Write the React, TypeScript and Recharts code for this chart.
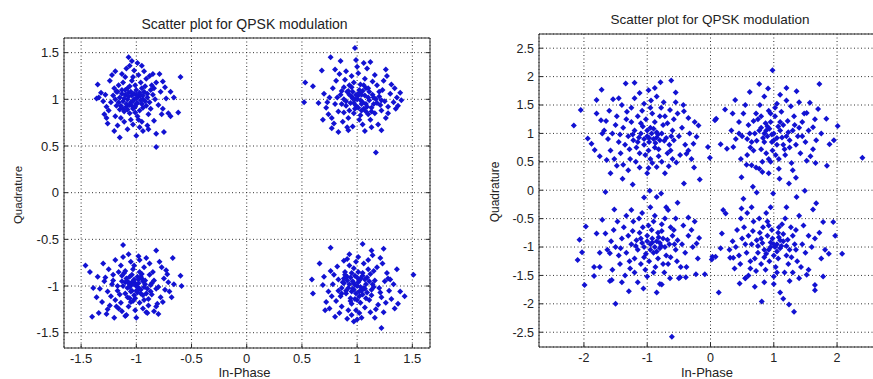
import React from 'react';
import { ScatterChart, Scatter, XAxis, YAxis, CartesianGrid } from 'recharts';

type P = [number, number];

const titleText = 'Scatter plot for QPSK modulation';
const xLabelText = 'In-Phase';
const yLabelText = 'Quadrature';

const leftXTicks = [-1.5, -1, -0.5, 0, 0.5, 1, 1.5];
const leftYTicks = [-1.5, -1, -0.5, 0, 0.5, 1, 1.5];
const rightXTicks = [-2, -1, 0, 1, 2];
const rightYTicks = [-2.5, -2, -1.5, -1, -0.5, 0, 0.5, 1, 1.5, 2, 2.5];

// ---- Left panel (low noise) ----
const leftUL: P[] = [
  [-1.07,1.45],[-1.04,1.41],[-1.35,1.16],[-0.60,1.24],[-1.15,0.59],[-0.82,0.49],[-0.82,0.63],[-0.75,0.65],[-1.0,0.61],[-0.94,0.66],[-1.26,0.74],[-1.27,0.80],[-0.62,0.86],[-0.69,0.82],[-0.66,1.02],[-0.69,1.08],[-0.76,1.19],[-0.79,1.27],[-0.85,1.27],[-1.19,1.30],[-0.95,1.36],
  [-1.02,1.00],[-0.98,1.03],[-1.05,0.97],[-0.95,0.95],[-1.10,1.05],[-0.90,1.02],[-1.00,1.10],[-1.03,0.90],[-1.12,0.98],[-0.93,1.08],[-1.08,1.12],[-0.97,0.88],[-1.15,1.02],[-0.88,0.97],[-1.01,1.15],[-1.06,0.85],[-0.92,1.14],[-1.18,0.93],[-0.85,1.05],[-1.13,1.10],[-0.99,0.82],[-1.04,1.20],[-0.94,0.91],[-1.09,0.92],[-0.96,1.18],[-1.21,1.04],[-0.87,0.90],[-1.07,1.07],[-1.00,0.95],[-1.11,0.87],[-0.91,1.22],[-1.16,1.15],[-0.83,1.00],[-1.23,0.97],[-0.98,1.26],[-1.05,0.78],[-0.89,0.84],[-1.14,0.80],[-1.20,1.12],[-0.95,0.76],[-1.28,1.05],[-0.80,0.94],[-1.02,1.31],[-1.10,1.24],[-0.86,1.15],[-1.25,0.88],[-0.78,1.08],[-1.17,0.72],[-0.97,0.70],[-1.30,0.98],[-0.84,0.77],[-1.09,1.33],[-0.93,1.30],[-1.24,1.20],[-0.76,0.90],[-1.32,1.07],[-1.03,0.73],[-0.90,0.72],[-1.13,1.27],[-0.82,1.18],[-1.19,0.82],[-0.99,1.39],[-1.06,1.36],[-0.73,1.01],[-1.34,1.02],[-0.77,0.84],[-1.22,1.26],[-0.88,1.25],[-1.27,0.92],[-1.01,0.86],[-0.96,1.04],[-1.04,1.04],[-1.08,1.00],[-0.94,1.00],[-1.00,1.05],[-1.06,0.94],[-0.91,0.93],[-1.12,1.18],[-0.87,1.10],[-1.15,0.89],[-1.03,1.24],[-0.98,0.78],[-1.18,1.08],[-0.84,1.12],[-1.11,0.76],[-1.36,1.01],[-0.71,0.85],[-1.29,0.84],[-0.74,1.13],[-1.20,0.66],[-0.89,0.68],[-1.08,0.68],
  [-1.03,0.98],[-1.07,1.03],[-0.99,0.96],[-1.11,1.01],[-1.05,1.08],[-0.97,1.07],[-1.09,0.95],[-1.13,1.06],[-1.01,0.92],[-0.95,1.12],[-1.16,0.97],[-1.06,1.14],[-0.92,0.98],[-1.14,0.93],[-1.02,1.06],[-1.08,0.89],[-0.96,0.99],[-1.19,1.00],[-1.04,0.93],[-0.90,1.06],[-1.10,1.10],[-1.00,1.01],[-1.12,0.90],[-0.94,1.04],[-1.17,1.08],
];
const leftUR: P[] = [
  [0.98,1.55],[0.76,1.45],[0.85,1.41],[0.68,1.31],[0.53,1.18],[0.60,1.14],[0.52,0.97],[1.17,0.43],[1.39,1.07],[1.37,0.93],[1.27,1.25],[1.06,1.39],[1.22,0.67],[0.77,0.69],[0.83,0.65],[0.92,0.67],[0.69,0.78],[0.65,0.96],[1.28,0.85],[1.34,1.12],
  [1.00,1.00],[1.05,0.97],[0.95,1.03],[1.10,1.02],[0.90,0.98],[1.02,1.10],[0.98,0.90],[1.15,0.95],[0.85,1.05],[1.08,1.12],[0.93,0.88],[1.20,1.03],[0.80,0.95],[1.03,0.83],[0.97,1.18],[1.13,0.87],[0.88,1.13],[1.25,0.98],[0.75,1.02],[1.07,1.22],[0.92,0.80],[1.18,1.15],[0.83,0.87],[1.01,1.28],[1.12,0.78],[0.78,1.12],[1.30,1.06],[0.95,1.25],[1.22,0.88],[0.87,0.76],[1.05,0.73],[0.72,0.91],[1.16,1.26],[0.90,1.30],[1.33,0.97],[0.81,1.20],[1.26,0.80],[0.96,0.71],[1.09,1.33],[0.74,0.84],[1.36,1.02],[1.00,1.35],[1.19,0.73],[0.86,0.95],[1.04,1.05],[0.94,0.96],[1.11,1.08],[0.99,0.93],[1.06,0.90],[0.91,1.08],[1.14,1.19],[0.82,1.02],[1.23,1.10],[0.97,0.85],[1.28,0.92],[0.77,0.80],[1.08,0.95],[0.89,1.21],[1.17,1.00],[0.93,1.15],[1.02,0.78],[1.31,1.16],[0.70,1.06],[1.24,1.20],[0.84,1.27],[1.13,0.70],[0.99,1.42],[0.79,0.74],[1.40,0.99],[1.10,0.84],[0.88,0.86],[1.21,0.94],[1.03,1.16],[0.96,1.08],[1.16,0.85],[0.86,1.09],[1.35,0.90],[0.73,0.97],[1.07,0.66],[0.91,0.70],[1.26,1.32],[0.80,1.32],[1.12,1.40],[1.04,0.95],[0.98,1.00],[1.01,1.04],
  [1.03,0.99],[1.07,1.04],[0.97,0.96],[1.11,0.99],[1.05,1.09],[0.93,1.05],[1.09,0.92],[1.14,1.05],[1.01,0.91],[0.95,1.13],[1.18,0.96],[1.06,1.15],[0.90,0.93],[1.13,0.91],[1.02,1.07],[1.08,0.87],[0.96,1.01],[1.20,1.08],[1.04,0.88],[0.88,1.00],[1.10,1.12],[0.99,1.05],[1.15,1.02],[0.92,1.09],[1.22,0.99],
];
const leftLL: P[] = [
  [-1.12,-0.56],[-0.82,-0.62],[-1.46,-0.78],[-1.42,-0.85],[-1.39,-1.02],[-1.40,-1.33],[-1.34,-1.29],[-1.27,-1.30],[-1.18,-1.22],[-0.59,-1.0],[-0.60,-0.89],[-0.67,-0.70],[-0.72,-0.875],[-1.10,-1.32],[-0.82,-1.22],[-0.74,-1.04],[-0.91,-1.28],[-1.30,-0.76],[-0.98,-0.68],
  [-1.00,-1.00],[-1.04,-0.96],[-0.96,-1.04],[-1.08,-1.02],[-0.92,-0.98],[-1.02,-1.10],[-0.99,-0.90],[-1.13,-0.95],[-0.87,-1.06],[-1.06,-1.13],[-0.95,-0.87],[-1.17,-1.05],[-0.84,-0.94],[-1.03,-0.82],[-0.97,-1.18],[-1.11,-0.86],[-0.89,-1.14],[-1.22,-0.98],[-0.80,-1.01],[-1.07,-1.22],[-0.93,-0.80],[-1.19,-1.15],[-0.85,-0.85],[-1.01,-1.26],[-1.14,-0.78],[-0.78,-1.12],[-1.26,-1.06],[-0.94,-1.24],[-1.21,-0.88],[-0.88,-0.76],[-1.05,-0.74],[-0.75,-0.92],[-1.16,-1.24],[-0.90,-1.29],[-1.29,-0.95],[-0.81,-1.19],[-1.25,-0.82],[-0.97,-0.72],[-1.09,-1.31],[-0.73,-0.83],[-1.33,-1.03],[-1.00,-1.34],[-1.19,-0.72],[-0.86,-0.97],[-1.04,-1.05],[-0.94,-0.95],[-1.10,-1.08],[-0.98,-0.93],[-1.06,-0.90],[-0.91,-1.08],[-1.14,-1.18],[-0.82,-1.03],[-1.23,-1.11],[-0.97,-0.85],[-1.28,-0.91],[-0.77,-0.80],[-1.08,-0.95],[-0.89,-1.21],[-1.17,-1.00],[-0.93,-1.15],[-1.02,-0.78],[-1.31,-1.17],[-0.70,-1.06],[-1.24,-1.21],[-0.84,-1.27],[-1.12,-0.69],[-1.36,-1.12],[-0.79,-0.74],[-0.66,-0.98],[-1.10,-0.84],[-0.88,-0.88],[-1.21,-0.94],[-1.03,-1.16],[-0.96,-1.08],[-1.16,-0.85],[-0.86,-1.09],[-1.35,-0.90],[-0.71,-0.96],[-1.07,-0.66],[-0.91,-0.70],[-1.26,-1.25],[-0.80,-1.30],[-1.13,-1.27],[-1.05,-0.99],[-0.99,-1.01],[-1.01,-0.97],[-1.20,-1.34],[-0.68,-1.12],[-0.76,-1.17],
  [-1.03,-0.98],[-0.97,-1.03],[-1.07,-0.97],[-0.99,-1.07],[-1.05,-1.06],[-0.93,-1.01],[-1.09,-0.92],[-1.01,-1.13],[-0.95,-0.92],[-1.12,-1.00],[-1.04,-0.88],[-0.90,-1.03],[-1.15,-1.09],[-0.98,-0.97],[-1.06,-1.01],[-0.94,-1.10],[-1.10,-0.96],[-1.02,-0.93],[-0.87,-0.99],[-1.08,-1.12],[-1.00,-1.05],[-0.96,-0.90],[-1.13,-0.89],[-1.05,-1.17],[-0.92,-0.94],
];
const leftLR: P[] = [
  [1.05,-0.55],[0.76,-0.59],[1.24,-0.60],[1.51,-0.88],[1.43,-1.11],[1.37,-1.19],[1.34,-1.24],[1.22,-1.45],[0.59,-0.93],[0.60,-1.08],[0.71,-1.26],[1.00,-1.36],[1.02,-1.29],[0.91,-1.35],[1.13,-0.62],[1.21,-0.70],[1.36,-0.82],[0.66,-0.76],[1.28,-0.92],
  [1.00,-1.00],[0.96,-0.95],[1.04,-1.05],[0.92,-1.02],[1.08,-0.98],[0.98,-0.89],[1.02,-1.11],[0.87,-0.96],[1.13,-1.04],[0.94,-1.13],[1.05,-0.86],[0.83,-1.05],[1.16,-0.94],[0.97,-0.81],[1.03,-1.18],[0.89,-0.85],[1.11,-1.15],[0.78,-0.98],[1.20,-1.02],[0.93,-0.78],[1.07,-1.23],[0.81,-1.16],[1.15,-0.84],[0.99,-1.26],[0.86,-1.22],[1.22,-1.12],[0.74,-1.06],[1.06,-0.76],[0.91,-0.71],[1.25,-0.95],[0.79,-0.88],[1.12,-1.28],[0.95,-1.31],[1.29,-1.05],[0.72,-1.17],[1.18,-0.80],[1.01,-0.69],[0.84,-1.29],[1.31,-1.14],[0.76,-0.84],[1.09,-0.91],[0.90,-1.08],[1.05,-1.09],[0.97,-1.04],[1.14,-0.98],[0.88,-0.92],[1.02,-0.94],[0.95,-1.19],[1.19,-1.20],[0.82,-0.79],[1.27,-0.86],[0.69,-0.99],[1.10,-0.72],[0.93,-0.66],[1.24,-1.28],[0.80,-1.33],[1.16,-1.34],[0.98,-0.99],[1.03,-1.01],[0.86,-1.02],[1.21,-1.07],[0.91,-0.90],[1.08,-1.13],[0.75,-1.24],[1.33,-0.98],[0.99,-0.74],[1.12,-0.87],[0.85,-1.11],[1.26,-1.18],[0.70,-0.90],[1.04,-1.34],[0.88,-0.73],[1.39,-1.06],[1.17,-1.25],[0.95,-1.06],[1.01,-0.85],[1.07,-1.03],[0.92,-1.26],[1.30,-0.93],[0.77,-1.11],[1.14,-0.67],[1.00,-1.15],[0.83,-0.93],[1.23,-0.76],[0.97,-1.38],
  [0.97,-0.97],[1.03,-0.92],[0.93,-0.98],[1.06,-1.02],[0.99,-1.08],[0.95,-0.86],[1.09,-1.07],[0.90,-1.05],[1.01,-0.96],[0.94,-0.91],[1.11,-0.95],[0.98,-1.14],[0.88,-0.97],[1.05,-0.89],[1.13,-1.10],[0.96,-1.03],[1.02,-1.06],[0.91,-0.94],[1.07,-0.93],[0.86,-1.08],[1.15,-1.01],[1.00,-0.91],[0.94,-1.16],[1.10,-0.82],[0.89,-0.88],
];

// ---- Right panel (higher noise) ----
const rightUL: P[] = [
  [-2.16,1.14],[-2.05,1.41],[-1.94,0.91],[-1.83,0.71],[-1.72,1.77],[-1.64,0.53],[-1.34,1.88],[-1.20,1.89],[-0.79,1.90],[-0.62,1.93],[-0.55,1.72],[-0.42,1.39],[-0.19,1.14],[-0.04,0.76],[-0.01,0.57],[-0.17,0.19],[-0.42,0.12],[-0.26,0.40],[-1.39,0.20],[-1.23,0.10],[-1.58,0.30],[-1.48,0.43],[-0.98,0.39],[-0.85,0.41],[-0.66,0.42],[-0.54,0.49],[-1.80,1.59],[-1.54,1.60],[-1.12,1.71],[-0.98,1.76],[-0.94,1.58],[-0.74,1.55],[-0.64,1.41],[-0.35,1.27],[-0.22,0.94],[-0.27,0.82],[-0.38,0.64],[-1.73,1.23],[-1.71,1.00],[-1.88,0.82],
  [-1.00,0.95],[-0.90,0.90],[-1.10,1.00],[-0.80,0.88],[-1.20,1.05],[-0.95,1.10],[-1.05,0.80],[-0.85,1.02],[-1.15,0.85],[-0.70,0.92],[-1.30,0.95],[-0.98,0.70],[-1.02,1.25],[-0.75,1.15],[-1.25,1.20],[-0.88,0.75],[-1.12,0.65],[-0.65,0.80],[-1.38,1.10],[-0.92,1.35],[-1.08,1.40],[-0.60,1.05],[-1.45,0.85],[-0.82,0.60],[-1.18,0.50],[-0.72,1.30],[-1.32,1.38],[-0.50,0.95],[-1.50,1.15],[-0.95,0.55],[-1.05,1.52],[-0.58,1.25],[-1.42,0.65],[-0.78,1.45],[-1.28,0.72],[-0.45,1.10],[-1.55,1.00],[-0.68,0.65],[-1.15,1.30],[-0.88,1.20],[-1.22,0.88],[-0.83,0.98],[-0.97,0.85],[-1.07,1.12],[-0.93,1.00],[-1.13,0.93],[-0.87,0.83],[-0.73,0.87],[-1.35,0.80],[-0.62,0.95],[-1.48,1.30],[-0.40,0.80],[-1.62,0.90],[-0.77,0.50],[-1.27,0.55],[-0.52,1.35],[-1.40,1.50],[-0.85,1.65],[-1.20,1.62],[-0.48,0.62],[-1.58,0.70],[-0.33,1.00],[-1.68,1.05],[-1.03,0.62],[-0.68,1.18],[-1.33,1.25],[-0.95,1.45],[-1.17,0.75],[-0.82,0.72],[-1.10,1.18],[-0.90,1.08],[-1.00,1.05],[-0.97,0.92],[-1.05,0.90],[-0.85,0.93],[-0.77,1.00],[-1.23,0.98],[-0.63,0.70],[-1.52,0.55],[-0.55,1.55],[-1.60,1.40],[-0.30,0.55],[-1.75,0.60],[-1.00,0.30],[-0.72,0.30],[-1.30,0.35],[-0.43,1.50],[-1.45,1.62],[-0.88,1.80],[-0.35,0.70],[-1.80,1.35],[-1.12,0.40],[-0.60,0.55],[-1.38,0.45],[-0.25,1.20],[-1.65,1.22],[-0.80,1.30],[-1.25,1.45],[-0.58,0.88],[-1.43,0.98],[-0.92,0.48],
];
const rightUR: P[] = [
  [0.98,2.11],[1.72,1.87],[0.77,1.87],[0.91,1.79],[0.62,1.73],[0.39,1.59],[1.36,1.74],[1.57,1.54],[1.83,1.26],[2.01,1.13],[1.95,0.88],[1.88,0.81],[1.84,0.43],[2.40,0.57],[0.09,1.26],[0.07,1.23],[0.23,1.42],[0.16,0.81],[0.26,0.73],[0.49,0.23],[0.65,0.44],[0.82,0.32],[1.24,0.12],[1.35,0.22],[1.66,0.48],[1.09,0.20],[0.33,1.05],[0.36,0.76],[1.62,1.11],[1.67,0.88],[1.70,1.43],[1.52,1.36],[1.20,1.58],
  [1.00,1.00],[0.90,0.95],[1.10,1.05],[0.80,1.10],[1.20,0.95],[0.95,1.20],[1.05,0.80],[0.85,0.85],[1.15,1.15],[0.70,1.00],[1.30,1.05],[0.98,0.70],[1.02,1.30],[0.75,1.25],[1.25,0.75],[0.88,0.65],[1.12,1.38],[0.65,0.85],[1.38,0.95],[0.92,1.40],[1.08,0.55],[0.60,1.15],[1.45,1.20],[0.82,0.50],[1.18,0.62],[0.72,1.35],[1.32,1.30],[0.50,0.95],[1.50,0.85],[0.95,0.50],[1.05,1.52],[0.58,0.62],[1.42,0.65],[0.78,1.50],[1.28,0.48],[0.45,1.20],[1.55,1.05],[0.68,0.70],[1.15,0.80],[0.88,1.05],[1.22,1.22],[0.83,0.92],[0.97,0.85],[1.07,1.12],[0.93,1.08],[1.13,0.93],[0.87,1.18],[0.73,0.87],[1.35,0.80],[0.62,1.00],[1.48,1.35],[0.40,0.90],[1.62,0.72],[0.77,0.38],[1.27,1.48],[0.52,1.35],[1.40,1.55],[0.85,1.65],[1.10,1.68],[0.48,0.55],[1.58,0.60],[0.55,1.50],[0.92,0.30],[1.03,0.62],[0.68,1.22],[1.33,1.15],[0.95,1.35],[1.17,0.72],[0.80,0.72],[1.10,1.20],[0.90,1.12],[1.00,0.88],[0.97,0.98],[1.05,0.92],[0.85,1.00],[0.77,1.05],[1.23,1.02],[0.63,0.75],[1.52,0.52],[0.57,0.45],[1.30,0.35],[0.72,0.40],[1.45,0.95],[0.35,1.35],[1.75,1.00],[1.20,1.80],[0.45,1.00],[1.02,1.45],[0.80,1.30],[1.25,0.88],[0.58,0.90],[1.40,1.10],[0.92,0.55],[1.65,1.25],[1.08,0.38],[0.67,0.06],[1.49,-0.01],
];
const rightLL: P[] = [
  [-0.61,-2.58],[-1.50,-2.0],[-1.99,-1.67],[-2.10,-1.23],[-2.07,-0.87],[-1.97,-0.64],[-2.03,-1.09],[-1.84,-1.35],[-1.84,-1.51],[-1.59,-1.60],[-1.29,-1.78],[-1.06,-1.73],[-0.77,-1.66],[-0.64,-1.55],[-0.48,-1.53],[-0.39,-1.53],[-0.23,-1.48],[-0.09,-1.48],[0.03,-1.17],[0.02,-1.22],[-0.22,-0.94],[-0.18,-0.84],[-0.35,-0.48],[-0.52,-0.22],[-0.78,-0.06],[-0.96,-0.01],[-1.05,-0.13],[-1.52,-0.34],[-1.71,-0.52],[-1.66,-0.76],[-1.80,-0.76],[-1.59,-1.11],[-1.56,-1.58],[-1.75,-1.10],[-1.66,-0.03],[-0.85,-0.12],[-0.67,-0.35],
  [-0.95,-0.95],[-0.85,-0.90],[-1.05,-1.00],[-0.75,-0.85],[-1.15,-1.05],[-0.90,-1.10],[-1.00,-0.80],[-0.80,-1.02],[-1.10,-0.85],[-0.65,-0.95],[-1.25,-0.95],[-0.93,-0.70],[-0.97,-1.25],[-0.70,-1.15],[-1.20,-1.20],[-0.83,-0.75],[-1.07,-0.65],[-0.60,-0.80],[-1.33,-1.10],[-0.87,-1.35],[-1.03,-1.40],[-0.55,-1.05],[-1.40,-0.85],[-0.77,-0.60],[-1.13,-0.50],[-0.67,-1.30],[-1.27,-1.38],[-0.45,-0.95],[-1.45,-1.15],[-0.90,-0.55],[-1.00,-1.52],[-0.53,-1.25],[-1.37,-0.65],[-0.73,-1.45],[-1.23,-0.72],[-0.40,-1.10],[-1.50,-1.00],[-0.63,-0.65],[-1.10,-1.30],[-0.83,-1.20],[-1.17,-0.88],[-0.78,-0.98],[-0.92,-0.85],[-1.02,-1.12],[-0.88,-1.00],[-1.08,-0.93],[-0.82,-0.83],[-0.68,-0.87],[-1.30,-0.80],[-0.57,-0.95],[-1.43,-1.30],[-0.35,-0.80],[-1.57,-0.90],[-0.72,-0.50],[-1.22,-0.55],[-0.47,-1.35],[-1.35,-1.50],[-0.80,-1.65],[-1.15,-1.62],[-0.43,-0.62],[-1.53,-0.70],[-0.28,-1.00],[-1.63,-1.05],[-0.98,-0.62],[-0.63,-1.18],[-1.28,-1.25],[-0.90,-1.45],[-1.12,-0.75],[-0.77,-0.72],[-1.05,-1.18],[-0.85,-1.08],[-0.95,-1.05],[-0.92,-0.92],[-1.00,-0.90],[-0.80,-0.93],[-0.72,-1.00],[-1.18,-0.98],[-0.58,-0.70],[-1.47,-0.55],[-0.50,-1.55],[-1.55,-1.40],[-0.25,-0.55],[-1.42,-1.02],[-0.95,-0.30],[-0.70,-0.30],[-1.25,-0.35],[-0.38,-1.35],[-1.40,-1.62],[-0.85,-1.80],[-0.30,-0.70],[-1.75,-1.35],[-1.08,-0.40],[-0.55,-0.50],[-1.33,-0.45],[-0.20,-1.20],[-0.75,-1.30],[-1.20,-1.45],[-0.52,-0.88],[-0.88,-0.45],
];
const rightLR: P[] = [
  [0.13,-1.80],[0.08,-1.17],[0.16,-1.02],[0.18,-0.76],[0.20,-0.35],[0.24,-0.41],[0.31,-1.19],[0.36,-1.19],[0.46,-1.64],[0.55,-1.55],[0.81,-1.96],[1.15,-1.91],[1.32,-2.14],[1.24,-2.01],[1.52,-1.49],[1.78,-1.52],[1.81,-1.05],[1.87,-1.12],[1.97,-0.80],[2.08,-1.12],[1.94,-0.56],[1.78,-0.56],[1.67,-0.23],[1.62,-0.34],[1.36,-0.12],[0.52,-0.15],[0.73,-0.04],[0.99,-0.06],[1.65,-1.76],[1.65,-1.67],[0.49,-0.32],
  [0.95,-1.00],[1.05,-0.95],[0.85,-1.05],[1.15,-0.90],[0.75,-1.10],[1.00,-1.15],[0.90,-0.80],[1.10,-1.02],[0.80,-0.85],[1.25,-1.05],[0.65,-0.95],[0.97,-0.70],[0.93,-1.25],[1.20,-1.15],[0.70,-1.20],[1.07,-0.75],[0.83,-0.65],[1.30,-0.80],[0.57,-1.10],[1.03,-1.35],[0.87,-1.40],[1.35,-1.05],[0.50,-0.85],[1.13,-0.60],[0.77,-0.50],[1.23,-1.30],[0.63,-1.38],[1.45,-0.95],[0.45,-1.15],[0.90,-0.55],[1.00,-1.52],[1.37,-1.25],[0.53,-0.65],[1.17,-1.45],[0.67,-0.72],[1.50,-1.10],[0.40,-1.00],[1.27,-0.65],[0.80,-1.30],[1.07,-1.20],[0.73,-0.88],[1.12,-0.98],[0.98,-0.85],[0.88,-1.12],[1.02,-1.00],[0.82,-0.93],[1.08,-0.83],[1.22,-0.87],[0.60,-0.80],[1.33,-0.95],[0.47,-1.30],[1.55,-0.80],[0.35,-0.90],[1.18,-0.50],[0.68,-0.55],[1.43,-1.35],[0.60,-1.50],[1.25,-1.60],[0.85,-1.62],[1.47,-0.62],[0.42,-0.70],[1.60,-1.00],[0.30,-1.05],[0.92,-0.62],[1.28,-1.18],[0.63,-1.25],[1.05,-1.45],[0.78,-0.75],[1.15,-0.77],[0.85,-1.18],[1.05,-1.08],[0.95,-0.92],[1.00,-0.95],[0.92,-1.05],[1.10,-0.88],[1.20,-0.98],[0.75,-0.98],[1.35,-0.70],[0.55,-1.55],[1.40,-1.55],[0.48,-0.50],[1.65,-0.85],[0.95,-0.30],[1.20,-0.30],[0.65,-0.30],[1.55,-1.40],[0.38,-1.38],[1.10,-1.80],[0.70,-1.70],[1.75,-1.20],[0.88,-0.40],[1.40,-0.45],[0.58,-0.40],[1.72,-0.75],[1.00,-1.65],[0.72,-1.42],[1.30,-1.45],[1.08,-0.65],[0.55,-0.95],
];

const toObj = (arr: P[]) => arr.map(([x, y]) => ({ x, y }));
const leftData = toObj([...leftUL, ...leftUR, ...leftLL, ...leftLR]);
const rightData = toObj([...rightUL, ...rightUR, ...rightLL, ...rightLR]);

const FONT = '"Liberation Sans", Arial, Helvetica, sans-serif';
const AXIS = '#2a2a2a';
const TXT = '#222';
const DOT = '#1212d2';
const TICK_LEN = 4;

const Diamond = (props: any) => {
  const { cx, cy } = props;
  if (cx == null || cy == null) return null;
  const r = 3;
  return <path d={`M${cx},${cy - r}L${cx + r},${cy}L${cx},${cy + r}L${cx - r},${cy}Z`} fill={DOT} />;
};

type PanelProps = {
  left: number;
  width: number;
  plot: { top: number; right: number; bottom: number; left: number };
  xDomain: [number, number];
  yDomain: [number, number];
  xTicks: number[];
  yTicks: number[];
  data: { x: number; y: number }[];
  fs: number;
};

function Panel({ left, width, plot, xDomain, yDomain, xTicks, yTicks, data, fs }: PanelProps) {
  const bottomTick = (p: any) => (
    <g key={`b${p.index}`}>
      <line x1={p.x} x2={p.x} y1={p.y} y2={p.y - TICK_LEN} stroke={AXIS} />
      <text x={p.x} y={p.y + 6} dy="0.71em" textAnchor="middle" fontSize={fs} fontFamily={FONT} fill={TXT}>
        {p.payload.value}
      </text>
    </g>
  );
  const leftTick = (p: any) => (
    <g key={`l${p.index}`}>
      <line x1={p.x} x2={p.x + TICK_LEN} y1={p.y} y2={p.y} stroke={AXIS} />
      <text x={p.x - 5} y={p.y} dy="0.35em" textAnchor="end" fontSize={fs} fontFamily={FONT} fill={TXT}>
        {p.payload.value}
      </text>
    </g>
  );
  const topTick = (p: any) => <line key={`t${p.index}`} x1={p.x} x2={p.x} y1={p.y} y2={p.y + TICK_LEN} stroke={AXIS} />;
  const rightTick = (p: any) => <line key={`r${p.index}`} x1={p.x} x2={p.x - TICK_LEN} y1={p.y} y2={p.y} stroke={AXIS} />;
  return (
    <div style={{ position: 'absolute', left, top: 0 }}>
      <ScatterChart width={width} height={379} margin={{ top: 0, right: 0, bottom: 0, left: 0 }}>
        <CartesianGrid stroke="#333" strokeDasharray="1 2.5" />
        <XAxis xAxisId={0} orientation="bottom" type="number" dataKey="x" domain={xDomain} ticks={xTicks} interval={0} allowDataOverflow
          height={plot.bottom} tickSize={0} tickMargin={0} axisLine={{ stroke: AXIS }} tick={bottomTick} />
        <YAxis yAxisId={0} orientation="left" type="number" dataKey="y" domain={yDomain} ticks={yTicks} interval={0} allowDataOverflow
          width={plot.left} tickSize={0} tickMargin={0} axisLine={{ stroke: AXIS }} tick={leftTick} />
        <XAxis xAxisId="top" orientation="top" type="number" domain={xDomain} ticks={xTicks} interval={0} allowDataOverflow
          height={plot.top} tickSize={0} tickMargin={0} axisLine={{ stroke: AXIS }} tick={topTick} />
        <YAxis yAxisId="right" orientation="right" type="number" domain={yDomain} ticks={yTicks} interval={0} allowDataOverflow
          width={plot.right} tickSize={0} tickMargin={0} axisLine={{ stroke: AXIS }} tick={rightTick} />
        <Scatter xAxisId={0} yAxisId={0} data={data} fill={DOT} shape={Diamond} isAnimationActive={false} />
      </ScatterChart>
    </div>
  );
}

export default function App() {
  return (
    <div style={{ position: 'absolute', left: 0, top: 0, width: 873, height: 379, overflow: 'hidden', background: '#fff' }}>
      <Panel
        left={0}
        width={440}
        plot={{ top: 38, right: 10, bottom: 31, left: 64 }}
        xDomain={[-1.655, 1.66]}
        yDomain={[-1.664, 1.657]}
        xTicks={leftXTicks}
        yTicks={leftYTicks}
        data={leftData}
        fs={13}
      />
      <Panel
        left={440}
        width={460}
        plot={{ top: 34, right: 18, bottom: 32, left: 99 }}
        xDomain={[-2.71, 2.71]}
        yDomain={[-2.76, 2.75]}
        xTicks={rightXTicks}
        yTicks={rightYTicks}
        data={rightData}
        fs={12.5}
      />
      <svg width={873} height={379} style={{ position: 'absolute', left: 0, top: 0, pointerEvents: 'none' }}>
        <text x={244.5} y={24} dy="0.35em" textAnchor="middle" fontSize={14} fontFamily={FONT} fill={TXT}>{titleText}</text>
        <text x={710} y={19.5} dy="0.35em" textAnchor="middle" fontSize={13.5} fontFamily={FONT} fill={TXT}>{titleText}</text>
        <text x={244.5} y={372} dy="0.35em" textAnchor="middle" fontSize={13} fontFamily={FONT} fill={TXT}>{xLabelText}</text>
        <text x={707} y={372} dy="0.35em" textAnchor="middle" fontSize={13} fontFamily={FONT} fill={TXT}>{xLabelText}</text>
        <text x={18} y={195} dy="0.35em" textAnchor="middle" fontSize={11.5} fontFamily={FONT} fill={TXT} transform="rotate(-90 18 195)">{yLabelText}</text>
        <text x={495} y={192} dy="0.35em" textAnchor="middle" fontSize={12} fontFamily={FONT} fill={TXT} transform="rotate(-90 495 192)">{yLabelText}</text>
      </svg>
    </div>
  );
}
